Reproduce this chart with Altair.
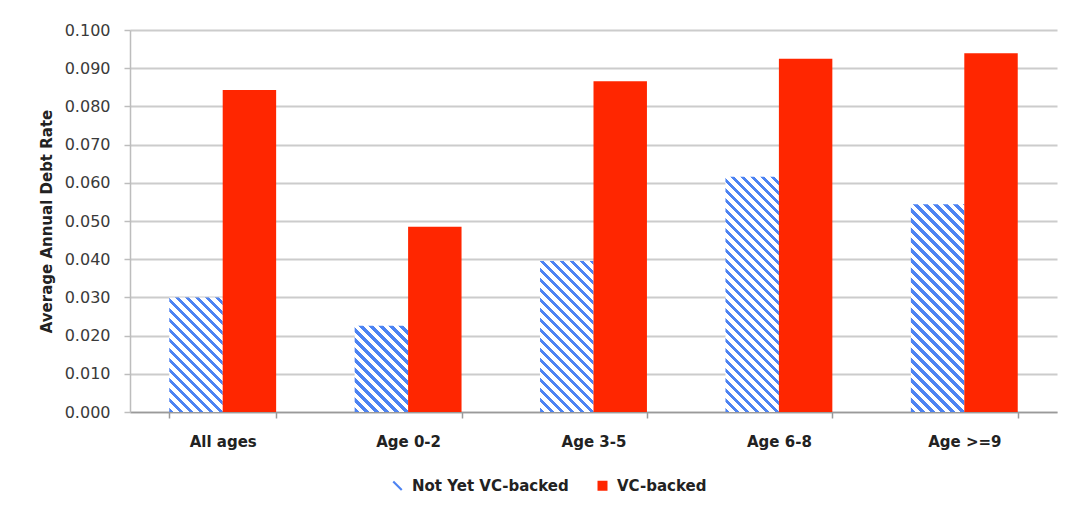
import altair as alt
import pandas as pd

categories = ["All ages", "Age 0-2", "Age 3-5", "Age 6-8", "Age >=9"]
not_yet_vc = [0.0300, 0.0226, 0.0395, 0.0616, 0.0544]
vc_backed = [0.0843, 0.0485, 0.0866, 0.0925, 0.0939]
series = ["Not Yet VC-backed", "VC-backed"]
y_ticks = [0.0, 0.01, 0.02, 0.03, 0.04, 0.05, 0.06, 0.07, 0.08, 0.09, 0.1]

rows = []
for c, a, b in zip(categories, not_yet_vc, vc_backed):
    rows.append({"cat": c, "series": series[0], "value": a})
    rows.append({"cat": c, "series": series[1], "value": b})
df = pd.DataFrame(rows)

W, H = 927, 382
PI, PO = 0.4235, 0.21175
YMAX = 0.1
BLUE = "#4d83f2"
RED = "#ff2600"
WHITE = "#ffffff"
PERIOD = 10.0
FONT = "DejaVu Sans"

step = W / (len(categories) - PI + 2 * PO)
bar_w = step * (1 - PI) / 2


def hatch(v):
    w = bar_w
    h = v / YMAX * H
    L = w + h
    s = (w + h) / (w * w + h * h)
    stops = []
    k = 0
    while k * PERIOD < L:
        a = k * PERIOD / L
        b = min((k * PERIOD + PERIOD * 0.45) / L, 1.0)
        c = min((k + 1) * PERIOD / L, 1.0)
        stops += [
            alt.GradientStop(color=BLUE, offset=a),
            alt.GradientStop(color=BLUE, offset=b),
            alt.GradientStop(color=WHITE, offset=b),
            alt.GradientStop(color=WHITE, offset=c),
        ]
        k += 1
    return alt.LinearGradient(gradient="linear", stops=stops,
                              x1=0, y1=1, x2=s * w, y2=1 - s * h)


x_enc = alt.X("cat:N", sort=categories,
              scale=alt.Scale(domain=categories, paddingInner=PI, paddingOuter=PO),
              axis=alt.Axis(title=None, labelAngle=0, labelFont=FONT, labelFontSize=15,
                            labelFontWeight="bold", labelColor="#222222", labelPadding=16,
                            tickBand="extent", tickSize=6, tickColor="#9a9a9a", tickWidth=1.5,
                            domainColor="#9a9a9a", domainWidth=1.5, grid=False))
xoff_enc = alt.XOffset("series:N", sort=series,
                       scale=alt.Scale(domain=series, paddingInner=0, paddingOuter=0))
y_enc = alt.Y("value:Q", scale=alt.Scale(domain=[0, YMAX], nice=False),
              axis=alt.Axis(values=y_ticks, format=".3f", title="Average Annual Debt Rate",
                            labelFont=FONT, labelFontSize=16, labelColor="#3a3a3a",
                            labelPadding=14, tickSize=6, tickColor="#bdbdbd", tickWidth=1.5,
                            domainColor="#bdbdbd", domainWidth=1.5,
                            grid=True, gridColor="#cccccc", gridWidth=2,
                            titleFont=FONT, titleFontSize=15, titleFontWeight="bold",
                            titleColor="#222222", titleX=-84, titleY=H / 2, titleAngle=-90,
                            titleAlign="center", titleBaseline="middle"))

base = alt.Chart(df)

red_layer = base.transform_filter(
    alt.datum.series == series[1]
).mark_bar(fill=RED).encode(x=x_enc, xOffset=xoff_enc, y=y_enc)

blue_layers = []
for c, v in zip(categories, not_yet_vc):
    blue_layers.append(
        base.transform_filter(
            (alt.datum.series == series[0]) & (alt.datum.cat == c)
        ).mark_bar(fill=hatch(v)).encode(x=x_enc, xOffset=xoff_enc, y=y_enc)
    )

diag = "M-1,-0.7L-0.7,-1L1,0.7L0.7,1Z"
legend_layer = base.transform_filter("datum.value < 0").mark_point(filled=True, opacity=1).encode(
    color=alt.Color("series:N", scale=alt.Scale(domain=series, range=[BLUE, RED]),
                    legend=alt.Legend(title=None)),
    shape=alt.Shape("series:N", scale=alt.Scale(domain=series, range=[diag, "square"]),
                    legend=alt.Legend(title=None)),
)

chart = alt.layer(*blue_layers, red_layer, legend_layer).properties(
    width=W, height=H,
    autosize="none",
    padding={"left": 122, "top": 22, "right": 5, "bottom": 94},
    background="white",
).configure_view(stroke=None).configure_legend(
    orient="none", legendX=260, legendY=448, direction="horizontal",
    labelFont=FONT, labelFontSize=15, labelFontWeight="bold", labelColor="#222222",
    symbolSize=100, symbolStrokeWidth=0, columnPadding=26, labelOffset=7, padding=0,
)

chart.save("out.html", embed_options={"renderer": "svg", "actions": False})
